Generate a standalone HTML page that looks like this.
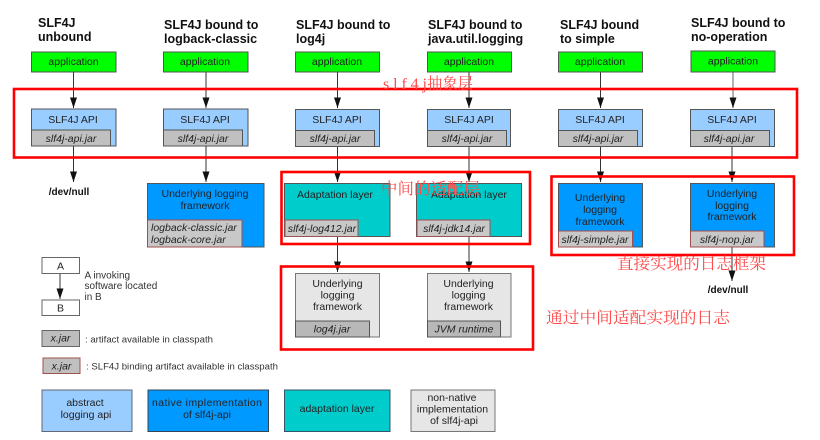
<!DOCTYPE html>
<html><head><meta charset="utf-8"><style>
html,body{margin:0;padding:0;background:#fff;width:820px;height:440px;overflow:hidden}
svg{display:block;filter:blur(.35px)}
text{font-family:"Liberation Sans",sans-serif;font-size:10.5px;fill:#222;text-anchor:middle}
.t{font-weight:bold;font-size:12.5px;text-anchor:start;fill:#111}
.j{font-style:italic}
.s{text-anchor:start;fill:#333;font-size:10px}
.n{font-weight:bold;font-size:10px;fill:#111}
.c{font-family:"Liberation Serif","Noto Serif CJK SC",serif;font-size:16px;fill:#ff4a4a;text-anchor:start}
.b{stroke:#555;stroke-width:1}
.r{fill:none;stroke:#f00;stroke-width:2.6}
.jar{fill:#c0c0c0;stroke:#555}
.jr{fill:#c8c8c8;stroke:#a05050}
.l{stroke:#333;stroke-width:1}
</style></head><body>
<svg width="820" height="440" viewBox="0 0 820 440" xmlns="http://www.w3.org/2000/svg">
<defs><marker id="a" markerUnits="userSpaceOnUse" markerWidth="8" markerHeight="11" refX="4" refY="10.5" orient="0"><path d="M.5 0L7.500 0L4 10.500Z" fill="#111"/></marker></defs>

<text class="t" x="38" y="27">SLF4J</text><text class="t" x="38" y="41">unbound</text>
<text class="t" x="164" y="29">SLF4J bound to</text><text class="t" x="164" y="43">logback-classic</text>
<text class="t" x="296" y="29">SLF4J bound to</text><text class="t" x="296" y="43">log4j</text>
<text class="t" x="428" y="29">SLF4J bound to</text><text class="t" x="428" y="43">java.util.logging</text>
<text class="t" x="560" y="29">SLF4J bound</text><text class="t" x="560" y="43">to simple</text>
<text class="t" x="691" y="27">SLF4J bound to</text><text class="t" x="691" y="41">no-operation</text>

<!-- connectors -->
<g class="l">
<line x1="73.500" y1="72" x2="73.500" y2="108" marker-end="url(#a)"/>
<line x1="206" y1="72" x2="206" y2="108" marker-end="url(#a)"/>
<line x1="337.500" y1="72" x2="337.500" y2="108" marker-end="url(#a)"/>
<line x1="469" y1="72" x2="469" y2="108" marker-end="url(#a)"/>
<line x1="600.500" y1="72" x2="600.500" y2="108" marker-end="url(#a)"/>
<line x1="733" y1="72" x2="733" y2="108" marker-end="url(#a)" stroke="#999" stroke-width="1.500"/>
<line x1="73.500" y1="146" x2="73.500" y2="182" marker-end="url(#a)"/>
<line x1="206" y1="146" x2="206" y2="182" marker-end="url(#a)"/>
<line x1="337.500" y1="146" x2="337.500" y2="182" marker-end="url(#a)"/>
<line x1="469" y1="146" x2="469" y2="182" marker-end="url(#a)"/>
<line x1="600.500" y1="146" x2="600.500" y2="182" marker-end="url(#a)"/>
<line x1="732" y1="146" x2="732" y2="182" marker-end="url(#a)"/>
<line x1="337.500" y1="236" x2="337.500" y2="272" marker-end="url(#a)"/>
<line x1="469" y1="236" x2="469" y2="272" marker-end="url(#a)"/>
<line x1="732" y1="247" x2="732" y2="281" marker-end="url(#a)"/>
<line x1="60" y1="273" x2="60" y2="299" marker-end="url(#a)"/>
</g>

<!-- application -->
<g fill="#00ff00" class="b">
<rect x="31.500" y="52" width="84.500" height="20"/>
<rect x="163.500" y="52" width="84.500" height="20"/>
<rect x="295.500" y="52" width="84" height="20"/>
<rect x="427.500" y="52" width="84" height="20"/>
<rect x="558.500" y="52" width="84" height="20"/>
<rect x="691" y="51" width="84" height="21"/>
</g>
<text x="73.500" y="65">application</text><text x="205" y="65">application</text><text x="337" y="65">application</text><text x="469" y="65">application</text><text x="600" y="65">application</text><text x="733" y="64.500">application</text>

<!-- API -->
<g fill="#99ccff" class="b">
<rect x="31.500" y="109" width="84.500" height="37"/>
<rect x="163.500" y="109" width="84.500" height="37"/>
<rect x="295.500" y="109.500" width="84" height="37"/>
<rect x="427.500" y="109.500" width="83" height="37"/>
<rect x="558.500" y="109.500" width="84" height="37"/>
<rect x="690.500" y="109.500" width="84" height="37"/>
</g>
<text x="73" y="123">SLF4J API</text><text x="205" y="123">SLF4J API</text><text x="337" y="123">SLF4J API</text><text x="469" y="123">SLF4J API</text><text x="600" y="123">SLF4J API</text><text x="732" y="123">SLF4J API</text>
<g class="jar">
<rect x="31.500" y="130" width="79" height="16"/>
<rect x="163.500" y="130" width="79" height="16"/>
<rect x="295.500" y="130.500" width="79" height="16"/>
<rect x="427.500" y="130.500" width="79" height="16"/>
<rect x="558.500" y="130.500" width="79" height="16"/>
<rect x="690.500" y="130.500" width="79" height="16"/>
</g>
<g class="j">
<text class="j" x="71" y="142">slf4j-api.jar</text><text class="j" x="203" y="142">slf4j-api.jar</text><text class="j" x="335" y="142">slf4j-api.jar</text><text class="j" x="467" y="142">slf4j-api.jar</text><text class="j" x="598" y="142">slf4j-api.jar</text><text class="j" x="729" y="142">slf4j-api.jar</text>
</g>

<text class="n" x="69" y="195">/dev/null</text>
<text class="n" x="728" y="293">/dev/null</text>

<!-- logback -->
<rect x="147.500" y="183.500" width="116.500" height="63.500" fill="#0099ff" class="b"/>
<text x="205" y="197">Underlying logging</text><text x="205" y="209">framework</text>
<rect x="147.500" y="220" width="94.500" height="27" class="jr"/>
<text class="j" x="151" y="231" style="text-anchor:start">logback-classic.jar</text><text class="j" x="151" y="243" style="text-anchor:start">logback-core.jar</text>

<!-- adaptation -->
<rect x="284.500" y="183.500" width="105.500" height="53" fill="#00cccc" class="b"/>
<rect x="416.500" y="183.500" width="105" height="53" fill="#00cccc" class="b"/>
<text x="335" y="198">Adaptation layer</text><text x="469" y="198">Adaptation layer</text>
<rect x="285" y="220" width="73" height="16.500" class="jr"/>
<rect x="417" y="220" width="73" height="16.500" class="jr"/>
<text class="j" x="322" y="232">slf4j-log412.jar</text><text class="j" x="454" y="232">slf4j-jdk14.jar</text>

<!-- non native -->
<rect x="295.500" y="273.500" width="84" height="63.500" fill="#e6e6e6" stroke="#777"/>
<rect x="427.500" y="273.500" width="83.500" height="63.500" fill="#e6e6e6" stroke="#777"/>
<text x="337.500" y="287">Underlying</text><text x="337.500" y="298.500">logging</text><text x="337.500" y="310">framework</text>
<text x="468.500" y="287">Underlying</text><text x="468.500" y="298.500">logging</text><text x="468.500" y="310">framework</text>
<rect x="295.500" y="321" width="74" height="16" fill="#b8b8b8" stroke="#555"/>
<rect x="427.500" y="321" width="73" height="16" fill="#b8b8b8" stroke="#555"/>
<text class="j" x="332" y="332.500">log4j.jar</text><text class="j" x="464" y="332.500">JVM runtime</text>

<!-- simple, nop -->
<rect x="558.500" y="183.500" width="84" height="63.500" fill="#0099ff" class="b"/>
<rect x="690.500" y="183.500" width="84" height="63.500" fill="#0099ff" class="b"/>
<text x="600" y="201">Underlying</text><text x="600" y="213">logging</text><text x="600" y="225">framework</text>
<text x="732" y="197">Underlying</text><text x="732" y="209">logging</text><text x="732" y="220">framework</text>
<rect x="558.500" y="231" width="74" height="16" class="jr"/>
<rect x="690.500" y="231" width="73.500" height="16" class="jr"/>
<text class="j" x="595" y="243">slf4j-simple.jar</text><text class="j" x="727" y="243">slf4j-nop.jar</text>

<!-- legend -->
<rect x="42" y="257.500" width="37.500" height="16" fill="#fff" stroke="#666"/>
<rect x="42" y="300" width="37.500" height="15.500" fill="#fff" stroke="#666"/>
<text x="60.500" y="269.500">A</text><text x="60.500" y="311.500">B</text>
<text class="s" x="84.500" y="278.500">A invoking</text><text class="s" x="84.500" y="289">software located</text><text class="s" x="84.500" y="300">in B</text>
<rect x="42" y="330.500" width="37.500" height="16" fill="#bdbdbd" stroke="#666"/>
<text class="j" x="60.500" y="341.500">x.jar</text>
<text class="s" x="85" y="342.500" style="font-size:9.600px">: artifact available in classpath</text>
<rect x="43" y="358" width="37" height="15.500" fill="#c0c0c0" stroke="#a05050"/>
<text class="j" x="61.500" y="369.500">x.jar</text>
<text class="s" x="86" y="369.500" style="font-size:9.600px">: SLF4J binding artifact available in classpath</text>

<rect x="42" y="390" width="90" height="41.500" fill="#99ccff" stroke="#667"/>
<rect x="148" y="390" width="120.500" height="41.500" fill="#0099ff" stroke="#345"/>
<rect x="284.500" y="390" width="105.500" height="41.500" fill="#00cccc" stroke="#356"/>
<rect x="411" y="390" width="84" height="41.500" fill="#e6e6e6" stroke="#777"/>
<text x="85" y="406">abstract</text><text x="86" y="418">logging api</text>
<text x="207" y="406" textLength="110" lengthAdjust="spacing">native implementation</text><text x="207" y="418">of slf4j-api</text>
<text x="337" y="412">adaptation layer</text>
<text x="452" y="401">non-native</text><text x="452.500" y="412.500">implementation</text><text x="454" y="424">of slf4j-api</text>

<!-- red frames -->
<rect class="r" x="14" y="89" width="783" height="68.500"/>
<rect class="r" x="281.500" y="172" width="248.500" height="72"/>
<rect class="r" x="281" y="266.500" width="252" height="83"/>
<rect class="r" x="551.500" y="176.500" width="242.500" height="78.500"/>

<text class="c" x="383" y="89" textLength="44" lengthAdjust="spacing">slf4j</text>
<text class="c" x="427" y="89" textLength="46" lengthAdjust="spacingAndGlyphs">抽象层</text>
<text class="c" x="381" y="194" textLength="99" lengthAdjust="spacingAndGlyphs">中间的适配层</text>
<text class="c" x="617" y="269" textLength="149" lengthAdjust="spacingAndGlyphs">直接实现的日志框架</text>
<text class="c" x="546" y="323" textLength="184" lengthAdjust="spacingAndGlyphs">通过中间适配实现的日志</text>
</svg>
</body></html>
